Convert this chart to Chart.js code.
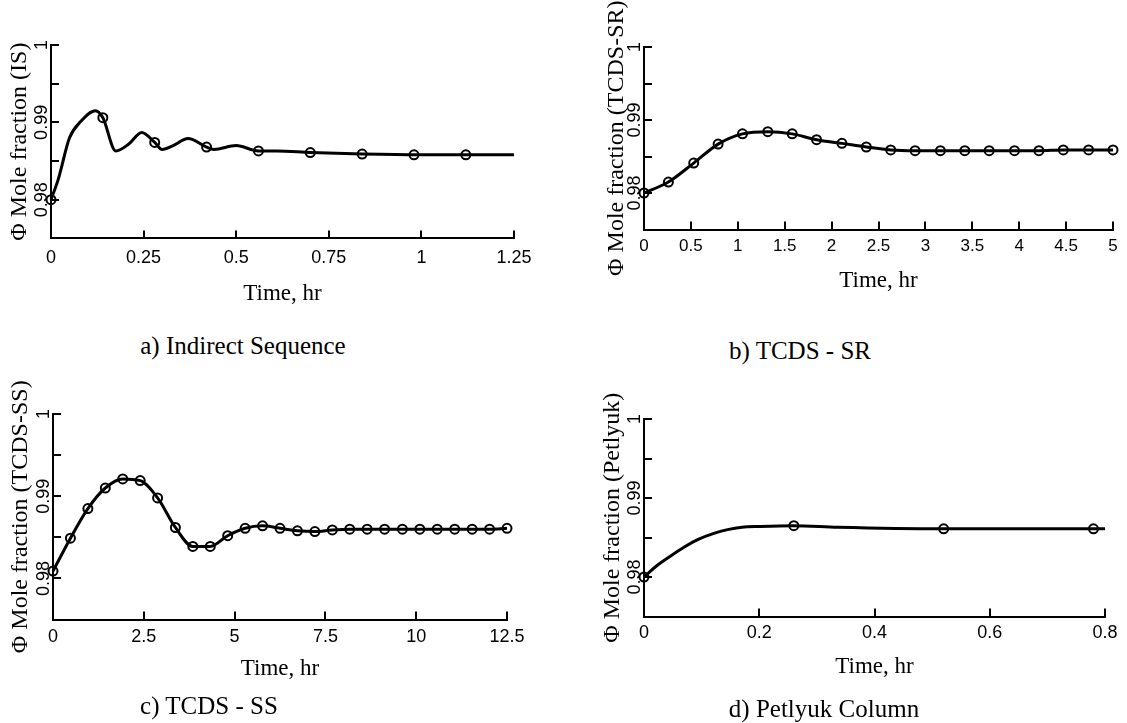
<!DOCTYPE html>
<html>
<head>
<meta charset="utf-8">
<script src="https://cdn.jsdelivr.net/npm/chart.js@4.4.0/dist/chart.umd.min.js"></script>
<style>
  body { margin: 0; background: #fff; width: 1127px; height: 723px; overflow: hidden; position: relative; }
  .panel { position: absolute; }
  .caption { position: absolute; font-family: "Liberation Serif", "Times New Roman", serif; font-size: 25px; line-height: 1;
             color: #000; transform: translate(-50%, -50%); white-space: nowrap; }
</style>
</head>
<body>
<script>
// a) Indirect Sequence
const isTime  = [0, 0.02, 0.05, 0.08, 0.12, 0.14, 0.175, 0.21, 0.245, 0.28, 0.30, 0.33, 0.37, 0.42, 0.44, 0.50, 0.56, 0.61, 0.70, 0.84, 1.0, 1.25];
const isValue = [0.9800, 0.9827, 0.9880, 0.9901, 0.9915, 0.9906, 0.9863, 0.9872, 0.9887, 0.9874, 0.9865, 0.9870, 0.9879, 0.9868, 0.9865, 0.9870, 0.9863, 0.9863, 0.9861, 0.9859, 0.9858, 0.9858];
const isMarkTime  = [0, 0.14, 0.28, 0.42, 0.56, 0.70, 0.84, 0.98, 1.12];
const isMarkValue = [0.9800, 0.9906, 0.9874, 0.9868, 0.9863, 0.9861, 0.9859, 0.9858, 0.9858];

// b) TCDS - SR
const srTime  = [0, 0.26, 0.53, 0.79, 1.05, 1.32, 1.58, 1.84, 2.11, 2.37, 2.63, 2.89, 3.16, 3.42, 3.68, 3.95, 4.21, 4.47, 4.74, 5.0];
const srValue = [0.9800, 0.9815, 0.9841, 0.9867, 0.9881, 0.9884, 0.9881, 0.9873, 0.9868, 0.9863, 0.9859, 0.9858, 0.9858, 0.9858, 0.9858, 0.9858, 0.9858, 0.9859, 0.9859, 0.9859];

// c) TCDS - SS
const ssTime  = [0, 0.48, 0.96, 1.44, 1.92, 2.4, 2.88, 3.37, 3.85, 4.33, 4.81, 5.29, 5.77, 6.25, 6.73, 7.21, 7.69, 8.17, 8.65, 9.13, 9.62, 10.1, 10.58, 11.06, 11.54, 12.02, 12.5];
const ssValue = [0.9809, 0.9849, 0.9885, 0.9910, 0.9921, 0.9919, 0.9898, 0.9862, 0.9839, 0.9839, 0.9852, 0.9861, 0.9864, 0.9861, 0.9858, 0.9857, 0.9859, 0.9860, 0.9860, 0.9860, 0.9860, 0.9860, 0.9860, 0.9860, 0.9860, 0.9860, 0.9861];

// d) Petlyuk Column
const ptTime  = [0, 0.02, 0.045, 0.07, 0.095, 0.12, 0.145, 0.17, 0.20, 0.259, 0.336, 0.52, 0.80];
const ptValue = [0.9800, 0.9813, 0.9826, 0.9838, 0.9848, 0.9855, 0.9860, 0.9863, 0.9864, 0.9865, 0.9863, 0.9861, 0.9861];
const ptMarkTime  = [0, 0.26, 0.52, 0.78];
const ptMarkValue = [0.9800, 0.9865, 0.9861, 0.9861];

const yLabelValues = [0.98, 0.99, 1];
const yLabelTexts  = ['0.98', '0.99', '1'];
const yTitles  = ['\u03A6 Mole fraction (IS)', '\u03A6 Mole fraction (TCDS-SR)', '\u03A6 Mole fraction (TCDS-SS)', '\u03A6 Mole fraction (Petlyuk)'];
const captions = ['a) Indirect Sequence', 'b) TCDS - SR', 'c) TCDS - SS', 'd) Petlyuk Column'];

const SERIF = '"Liberation Serif", "Times New Roman", serif';
const SANS = '"Liberation Sans", Arial, sans-serif';

// page layout (px): canvas box, plot area, label offsets
const layouts = [
  { box: [0, 0, 560, 320],     area: [51, 45, 514, 249],   xMax: 1.25, xStep: 0.25, tickFont: 18, tickOff: 19.6, titleOff: 44.6, yTitleX: 20,  cap: [243, 345] },
  { box: [560, 0, 567, 320],   area: [644, 47, 1113, 238], xMax: 5,    xStep: 0.5,  tickFont: 17, tickOff: 17,   titleOff: 43,   yTitleX: 617, cap: [800, 350] },
  { box: [0, 370, 560, 353],   area: [53, 414, 507, 628],  xMax: 12.5, xStep: 2.5,  tickFont: 18, tickOff: 17.4, titleOff: 41.4, yTitleX: 21,  cap: [209, 705] },
  { box: [560, 370, 567, 353], area: [644, 419, 1105, 624], xMax: 0.8, xStep: 0.2,  tickFont: 18, tickOff: 16.5, titleOff: 43,   yTitleX: 613, cap: [824, 708] }
];

const pts = (xs, ys) => xs.map((x, i) => ({ x: x, y: ys[i] }));

const curveStyle = { borderColor: '#000', borderWidth: 3, pointRadius: 0, cubicInterpolationMode: 'monotone', clip: false };
const markStyle = { showLine: false, pointRadius: 4.5, pointBorderWidth: 2, pointBorderColor: '#000', pointBackgroundColor: 'rgba(0,0,0,0)', clip: false };
const onLineMarks = { pointRadius: 4.5, pointBorderWidth: 2, pointBorderColor: '#000', pointBackgroundColor: 'rgba(0,0,0,0)' };

const panelData = [
  [Object.assign({ data: pts(isTime, isValue) }, curveStyle), Object.assign({ data: pts(isMarkTime, isMarkValue) }, markStyle)],
  [Object.assign({ data: pts(srTime, srValue) }, curveStyle, onLineMarks)],
  [Object.assign({ data: pts(ssTime, ssValue) }, curveStyle, onLineMarks)],
  [Object.assign({ data: pts(ptTime, ptValue) }, curveStyle), Object.assign({ data: pts(ptMarkTime, ptMarkValue) }, markStyle)]
];

// inward tick marks and rotated y labels
const axisDecor = {
  id: 'axisDecor',
  afterDraw(chart) {
    const { ctx, chartArea: ca, scales: { x, y } } = chart;
    ctx.save();
    ctx.strokeStyle = '#000';
    ctx.lineWidth = 2;
    ctx.beginPath();
    x.ticks.forEach(t => {
      const px = Math.round(x.getPixelForValue(t.value));
      ctx.moveTo(px, ca.bottom);
      ctx.lineTo(px, ca.bottom - 8);
    });
    y.ticks.forEach(t => {
      const py = Math.round(y.getPixelForValue(t.value));
      ctx.moveTo(ca.left, py);
      ctx.lineTo(ca.left + 8, py);
    });
    ctx.stroke();
    ctx.fillStyle = '#000';
    ctx.font = '18px ' + SANS;
    ctx.textAlign = 'center';
    ctx.textBaseline = 'middle';
    yLabelValues.forEach((v, i) => {
      ctx.save();
      ctx.translate(ca.left - 9, y.getPixelForValue(v));
      ctx.rotate(-Math.PI / 2);
      ctx.fillText(yLabelTexts[i], 0, 0);
      ctx.restore();
    });
    ctx.restore();
  }
};

layouts.forEach((p, k) => {
  const [bx, by, bw, bh] = p.box;
  const left = p.area[0] - bx, top = p.area[1] - by, right = p.area[2] - bx, bottom = p.area[3] - by;
  const titleFont = 23, yFont = 24;
  const tickPad = p.tickOff - p.tickFont / 2;
  const titlePadTop = Math.max(0, p.titleOff - p.tickOff - p.tickFont / 2 - titleFont / 2);
  const axisH = tickPad + p.tickFont + titlePadTop + titleFont;
  const yTitleX = p.yTitleX - bx;

  const wrap = document.createElement('div');
  wrap.className = 'panel';
  wrap.style.left = bx + 'px';
  wrap.style.top = by + 'px';
  const canvas = document.createElement('canvas');
  canvas.width = bw;
  canvas.height = bh;
  wrap.appendChild(canvas);
  document.body.appendChild(wrap);

  const cap = document.createElement('div');
  cap.className = 'caption';
  cap.style.left = p.cap[0] + 'px';
  cap.style.top = p.cap[1] + 'px';
  cap.textContent = captions[k];
  document.body.appendChild(cap);

  new Chart(canvas, {
    type: 'line',
    data: { datasets: panelData[k] },
    options: {
      responsive: false,
      animation: false,
      layout: { padding: { left: 0, top: top, right: bw - right, bottom: bh - bottom - axisH } },
      plugins: { legend: { display: false }, tooltip: { enabled: false } },
      scales: {
        x: {
          type: 'linear', min: 0, max: p.xMax,
          grid: { display: true, drawOnChartArea: false, drawTicks: false },
          border: { display: true, color: '#000', width: 2 },
          ticks: { stepSize: p.xStep, padding: tickPad, color: '#000', autoSkip: false, maxRotation: 0,
                   font: { family: SANS, size: p.tickFont, lineHeight: 1 },
                   callback: v => String(+v.toFixed(2)) },
          title: { display: true, text: 'Time, hr', color: '#000', font: { family: SERIF, size: titleFont, lineHeight: 1 },
                   padding: { top: titlePadTop, bottom: 0 } }
        },
        y: {
          type: 'linear', min: 0.975, max: 1,
          grid: { display: true, drawOnChartArea: false, drawTicks: false },
          border: { display: true, color: '#000', width: 2 },
          ticks: { display: false, stepSize: 0.005 },
          title: { display: true, text: yTitles[k], color: '#000', font: { family: SERIF, size: yFont, lineHeight: 1 },
                   padding: { top: yTitleX - yFont / 2, bottom: left - yTitleX - yFont / 2 } }
        }
      }
    },
    plugins: [axisDecor]
  });
});
</script>
</body>
</html>
